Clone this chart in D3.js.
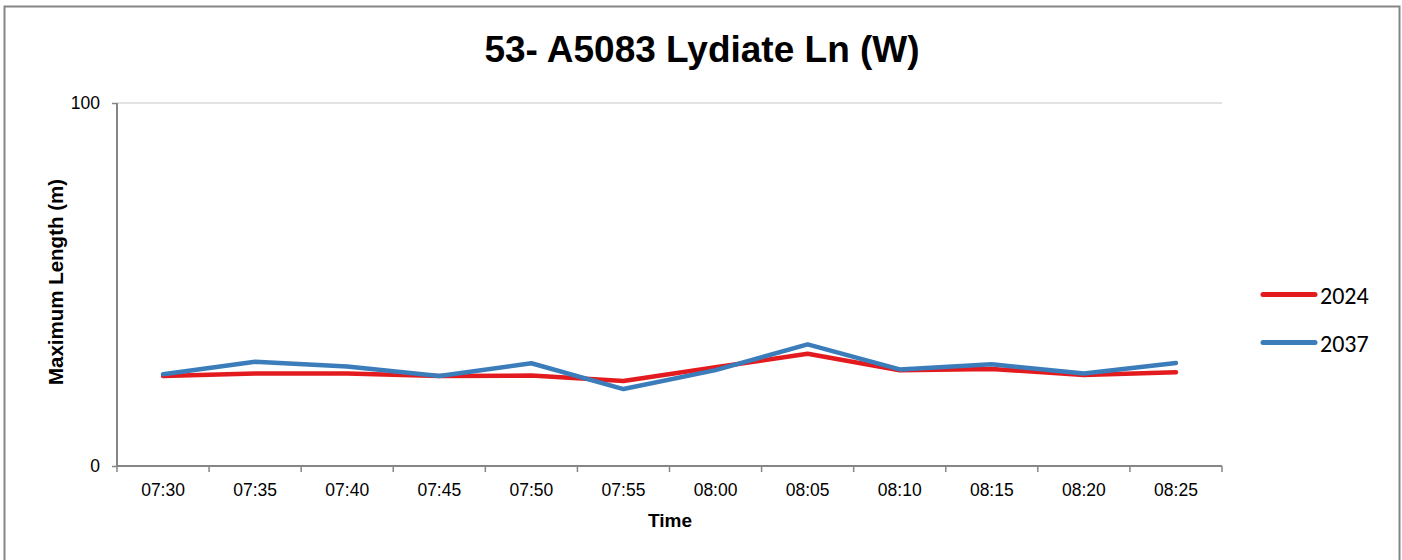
<!DOCTYPE html>
<html><head><meta charset="utf-8">
<script src="https://cdn.jsdelivr.net/npm/d3@7"></script>
<style>body{margin:0;background:#fff}svg{display:block}</style>
</head><body>
<svg id="c" width="1402" height="560"></svg>
<script>
const categories = ["07:30","07:35","07:40","07:45","07:50","07:55","08:00","08:05","08:10","08:15","08:20","08:25"];
const series2024 = [24.8,25.5,25.5,24.8,24.9,23.4,27.2,30.9,26.4,26.7,25.1,25.8];
const series2037 = [25.3,28.7,27.4,24.8,28.3,21.2,26.4,33.5,26.6,28.0,25.5,28.4];
const yTicks = [0,100];
const seriesNames = ["2024","2037"];
const colors = ["#e31b1f","#3b7dba"];

(function(){
const svg = d3.select("#c");
const pL = 117, pR = 1222, pT = 103, pB = 466;
const axisCol = "#868686";
svg.append("rect").attr("x",4.5).attr("y",6.5).attr("width",1395).attr("height",560)
  .attr("fill","#fff").attr("stroke",axisCol).attr("stroke-width",2);

const x = d3.scaleBand().domain(categories).range([pL,pR]);
const y = d3.scaleLinear().domain([0,100]).range([pB,pT]);

svg.append("line").attr("x1",pL).attr("x2",pR).attr("y1",y(100)).attr("y2",y(100))
  .attr("stroke","#d9d9d9").attr("stroke-width",1.5);

const xAxis = svg.append("g").attr("transform",`translate(0,${pB})`)
  .call(d3.axisBottom(x).tickSize(0).tickPadding(18));
xAxis.select(".domain").attr("stroke",axisCol).attr("stroke-width",2).attr("d",`M${pL},0H${pR}`);
xAxis.selectAll("text").attr("font-family","Liberation Sans, Arial").attr("font-size",17.5).attr("fill","#000");
const bounds = categories.map(c=>x(c)).concat([pR]);
xAxis.selectAll("line.b").data(bounds).enter().append("line").attr("class","b")
  .attr("x1",d=>d).attr("x2",d=>d).attr("y1",0).attr("y2",6).attr("stroke",axisCol).attr("stroke-width",1.5);

const yAxis = svg.append("g").attr("transform",`translate(${pL},0)`)
  .call(d3.axisLeft(y).tickValues(yTicks).tickSize(5).tickPadding(12));
yAxis.select(".domain").attr("stroke",axisCol).attr("stroke-width",2).attr("d",`M0,${pT}V${pB}`);
yAxis.selectAll(".tick line").attr("stroke",axisCol).attr("stroke-width",1.5);
yAxis.selectAll("text").attr("font-family","Liberation Sans, Arial").attr("font-size",17.5).attr("fill","#000");

const line = d3.line().x((d,i)=>x(categories[i])+x.bandwidth()/2).y(d=>y(d));
[series2024,series2037].forEach((s,k)=>{
  svg.append("path").datum(s).attr("d",line).attr("fill","none")
    .attr("stroke",colors[k]).attr("stroke-width",4.5).attr("stroke-linejoin","round").attr("stroke-linecap","round");
});

svg.append("text").attr("x",702).attr("y",62).attr("text-anchor","middle")
  .attr("font-family","Liberation Sans, Arial").attr("font-weight","bold").attr("font-size",37).text("53- A5083 Lydiate Ln (W)");
svg.append("text").attr("x",670).attr("y",527).attr("text-anchor","middle")
  .attr("font-family","Liberation Sans, Arial").attr("font-weight","bold").attr("font-size",19).text("Time");
svg.append("text").attr("transform","translate(63,282) rotate(-90)").attr("text-anchor","middle")
  .attr("font-family","Liberation Sans, Arial").attr("font-weight","bold").attr("font-size",20.5).text("Maximum Length (m)");

const lg = svg.append("g");
seriesNames.forEach((n,k)=>{
  const yy = 294.5 + k*48;
  lg.append("line").attr("x1",1263).attr("x2",1315).attr("y1",yy).attr("y2",yy)
    .attr("stroke",colors[k]).attr("stroke-width",5).attr("stroke-linecap","round");
  lg.append("text").attr("x",1320).attr("y",yy+9.5).attr("font-family","Carlito, Lato, Open Sans, sans-serif")
    .attr("font-size",24).attr("fill","#000").text(n);
});
})();
</script>
</body></html>
